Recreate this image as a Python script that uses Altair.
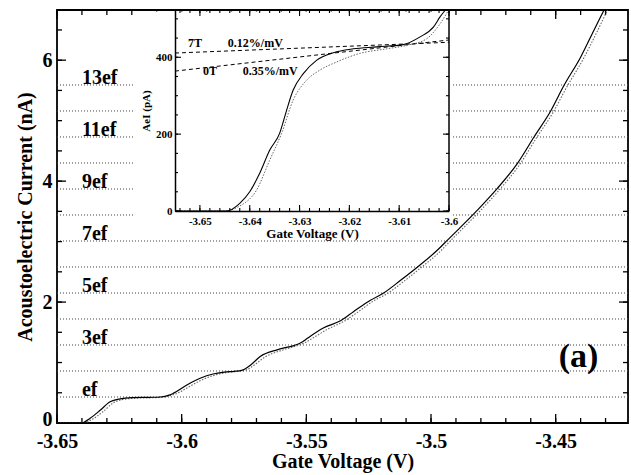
import altair as alt
import pandas as pd
import numpy as np

# ---------------- data ----------------
# main panel: acoustoelectric current (nA) vs gate voltage (V)
main_solid_x = [-3.650, -3.6401, -3.6367, -3.6327, -3.6287, -3.6247, -3.6200, -3.6130, -3.6086,
                -3.6050, -3.6034, -3.5979, -3.5926, -3.5874, -3.5830, -3.5790, -3.5760, -3.5720,
                -3.5685, -3.5617, -3.5580, -3.5550, -3.5520, -3.5496, -3.5432, -3.5363, -3.5311,
                -3.5243, -3.5190, -3.5122, -3.5054, -3.4974, -3.4935, -3.4814, -3.4734, -3.4654,
                -3.4587, -3.4520, -3.4467, -3.4400, -3.4346, -3.4306, -3.4280]
main_solid_y = [0.00, 0.00, 0.08, 0.21, 0.35, 0.40, 0.42, 0.425, 0.43,
                0.46, 0.49, 0.63, 0.74, 0.81, 0.84, 0.855, 0.87, 0.97,
                1.10, 1.21, 1.25, 1.28, 1.33, 1.40, 1.57, 1.69, 1.84,
                2.03, 2.15, 2.36, 2.58, 2.86, 3.02, 3.52, 3.88, 4.29,
                4.73, 5.16, 5.58, 6.05, 6.50, 6.83, 7.05]

main_dot_x = [-3.650, -3.6395, -3.6355, -3.6315, -3.6275, -3.6235, -3.6180, -3.6100, -3.6060,
              -3.6025, -3.5970, -3.5915, -3.5860, -3.5810, -3.5770, -3.5740, -3.5705, -3.5670,
              -3.5600, -3.5560, -3.5535, -3.5505, -3.5480, -3.5415, -3.5350, -3.5295, -3.5230,
              -3.5175, -3.5110, -3.5040, -3.4960, -3.4925, -3.4805, -3.4725, -3.4645, -3.4578,
              -3.4510, -3.4455, -3.4388, -3.4333, -3.4292, -3.4265]
main_dot_y = [0.00, 0.00, 0.07, 0.19, 0.33, 0.39, 0.41, 0.42, 0.44,
              0.48, 0.60, 0.72, 0.80, 0.84, 0.855, 0.88, 0.97, 1.08,
              1.20, 1.25, 1.28, 1.33, 1.39, 1.55, 1.68, 1.83, 2.02,
              2.14, 2.34, 2.57, 2.85, 3.00, 3.50, 3.86, 4.27, 4.71,
              5.14, 5.56, 6.03, 6.48, 6.83, 7.05]

EF = 0.43                      # nA, value of e*f
ef_levels = list(range(1, 14))
label_levels = [1, 3, 5, 7, 9, 11, 13]
label_texts = ["ef", "3ef", "5ef", "7ef", "9ef", "11ef", "13ef"]
label_x = -3.640

panel_tag = "(a)"
panel_tag_x, panel_tag_y = -3.4408, 1.09

main_x_ticks = [-3.65, -3.6, -3.55, -3.5, -3.45]
main_y_ticks = [0, 2, 4, 6]

# inset: AeI (pA) vs gate voltage (V)
inset_solid_x = [-3.655, -3.6446, -3.642, -3.640, -3.638, -3.636, -3.634, -3.6326, -3.6313,
                 -3.6292, -3.6266, -3.6232, -3.6192, -3.6145, -3.6092, -3.6058, -3.6031,
                 -3.6018, -3.6008, -3.6000]
inset_solid_y = [0, 0, 20, 50, 98, 158, 202, 262, 314,
                 358, 392, 412, 422, 427, 433, 453, 479,
                 505, 522, 535]

inset_dot_x = [-3.655, -3.6453, -3.642, -3.6386, -3.636, -3.6336, -3.6313, -3.6286, -3.626,
               -3.6225, -3.6179, -3.6125, -3.6085, -3.6045, -3.6018, -3.6002, -3.5995]
inset_dot_y = [0, 0, 13, 55, 132, 202, 288, 340, 366,
               388, 410, 422, 431, 448, 487, 520, 535]

fit7_x, fit7_y = [-3.655, -3.600], [411, 439]
fit0_x, fit0_y = [-3.655, -3.600], [364, 445]

inset_labels = ["7T", "0.12%/mV", "0T", "0.35%/mV"]
inset_label_x = [-3.6524, -3.6444, -3.6494, -3.6414]
inset_label_y = [436, 436, 364, 364]

inset_x_ticks = [-3.65, -3.64, -3.63, -3.62, -3.61, -3.6]
inset_y_ticks = [0, 200, 400]

# ---------------- layout ----------------
W, H = 571, 413
FONT = "Liberation Serif"
IX0, IX1, IY1 = 118, 392, 201          # inset frame inside the plot area

sx = alt.Scale(domain=[-3.65, -3.421], nice=False, zero=False)
sy = alt.Scale(domain=[0, 6.83], nice=False, zero=False)
isx = alt.Scale(domain=[-3.655, -3.600], range=[IX0, IX1], nice=False, zero=False)
isy = alt.Scale(domain=[0, 523], range=[IY1, 0], nice=False, zero=False)

AX_MX = alt.Axis(
    orient="bottom", values=main_x_ticks, labelExpr="'' + datum.value", ticks=False, domain=False,
    grid=False, labelFont=FONT, labelFontSize=20, labelFontWeight="bold", labelColor="black",
    labelPadding=8, labelFlush=False, labelOverlap=False,
    title="Gate Voltage (V)", titleFont=FONT, titleFontSize=20, titleFontWeight="bold",
    titleColor="black", titlePadding=0, titleLimit=1000)
AX_MY = alt.Axis(
    orient="left", values=main_y_ticks, labelExpr="'' + datum.value", ticks=False, domain=False,
    grid=False, labelFont=FONT, labelFontSize=20, labelFontWeight="bold", labelColor="black",
    labelPadding=5, labelFlush=False, labelOverlap=False,
    labelOffset={"condition": {"test": "datum.value == 0", "value": -4}, "value": 0},
    title="Acoustoelectric Current (nA)", titleFont=FONT, titleFontSize=20,
    titleFontWeight="bold", titleColor="black", titlePadding=7, titleLimit=1000)
AX_IX = alt.Axis(
    orient="bottom", offset=-(H - IY1), values=inset_x_ticks, labelExpr="'' + datum.value",
    ticks=False, domain=True, domainColor="black", domainWidth=1.5, grid=False, zindex=1,
    labelFont=FONT, labelFontSize=11, labelFontWeight="bold", labelColor="black",
    labelPadding=4, labelFlush=False, labelOverlap=False,
    title="Gate Voltage (V)", titleFont=FONT, titleFontSize=13, titleFontWeight="bold",
    titleColor="black", titlePadding=1)
AX_IY = alt.Axis(
    orient="left", offset=-IX0, values=inset_y_ticks, labelExpr="'' + datum.value",
    ticks=False, domain=True, domainColor="black", domainWidth=1.5, grid=False, zindex=1,
    labelFont=FONT, labelFontSize=11, labelFontWeight="bold", labelColor="black",
    labelPadding=3, labelFlush=False, labelOverlap=False,
    title="AeI (pA)", titleFont=FONT, titleFontSize=11, titleFontWeight="bold",
    titleColor="black", titlePadding=4)


def X(field, inset=False):
    return alt.X(field, scale=isx if inset else sx, axis=AX_IX if inset else AX_MX)


def Y(field, inset=False):
    return alt.Y(field, scale=isy if inset else sy, axis=AX_IY if inset else AX_MY)


def xtick_layer(vals, inset, y0, y1, w=1.3):
    return alt.Chart(pd.DataFrame({"v": vals})).mark_rule(color="black", strokeWidth=w).encode(
        x=X("v:Q", inset), y=alt.value(y0), y2=alt.value(y1))


def ytick_layer(vals, inset, x0, x1, w=1.3):
    return alt.Chart(pd.DataFrame({"v": vals})).mark_rule(color="black", strokeWidth=w).encode(
        y=Y("v:Q", inset), x=alt.value(x0), x2=alt.value(x1))


# ---- main panel ----
hl = alt.Chart(pd.DataFrame({"v": [n * EF for n in ef_levels]})).mark_rule(
    color="#444", strokeWidth=1, strokeDash=[1, 2]).encode(y=Y("v:Q"))

mxmaj = [round(v, 3) for v in np.arange(-3.65, -3.42, 0.05)]
mxmin = [round(v, 3) for v in np.arange(-3.65, -3.42, 0.01)]
mymaj = [0, 2, 4, 6]
mymin = [round(v, 2) for v in np.arange(0, 6.9, 0.5)]
main_ticks = [
    xtick_layer(mxmaj, False, H, H - 9), xtick_layer(mxmin, False, H, H - 5),
    xtick_layer(mxmaj, False, 0, 9), xtick_layer(mxmin, False, 0, 5),
    ytick_layer(mymaj, False, 0, 9), ytick_layer(mymin, False, 0, 5),
    ytick_layer(mymaj, False, W, W - 9), ytick_layer(mymin, False, W, W - 5),
]

inset_bg = alt.Chart(pd.DataFrame({"a": [0]})).mark_rect(color="white").encode(
    x=alt.value(76), x2=alt.value(396), y=alt.value(1.5), y2=alt.value(228))

df_ms = pd.DataFrame({"x": main_solid_x, "y": main_solid_y})
df_md = pd.DataFrame({"x": main_dot_x, "y": main_dot_y})

main_dot = alt.Chart(df_md).mark_line(color="#666", strokeWidth=1.1, strokeDash=[1.5, 1.5],
                                      clip=True, interpolate="monotone").encode(
    x=X("x:Q"), y=Y("y:Q"))
main_solid = alt.Chart(df_ms).mark_line(color="black", strokeWidth=1.2, clip=True,
                                        interpolate="monotone").encode(
    x=X("x:Q"), y=Y("y:Q"))

df_lab = pd.DataFrame({"t": label_texts, "v": [n * EF for n in label_levels],
                       "x": [label_x] * len(label_texts)})
labels = alt.Chart(df_lab).mark_text(align="left", baseline="alphabetic", dy=-1, font=FONT,
                                     fontSize=20, fontWeight="bold", color="black").encode(
    x=X("x:Q"), y=Y("v:Q"), text="t:N")

tag = alt.Chart(pd.DataFrame({"x": [panel_tag_x], "y": [panel_tag_y], "t": [panel_tag]})).mark_text(
    align="center", baseline="middle", font=FONT, fontSize=34, fontWeight="bold", color="black").encode(
    x=X("x:Q"), y=Y("y:Q"), text="t:N")

main_group = alt.layer(hl, *main_ticks, inset_bg, main_dot, main_solid, labels, tag)

# ---- inset ----
df_is = pd.DataFrame({"x": inset_solid_x, "y": inset_solid_y})
df_id = pd.DataFrame({"x": inset_dot_x, "y": inset_dot_y})
df_fit = pd.DataFrame({"x": fit7_x + fit0_x, "y": fit7_y + fit0_y,
                       "g": ["7T"] * 2 + ["0T"] * 2})

inset_solid = alt.Chart(df_is).mark_line(color="black", strokeWidth=1.1, clip=True,
                                         interpolate="monotone").encode(
    x=X("x:Q", True), y=Y("y:Q", True))
inset_dot = alt.Chart(df_id).mark_line(color="#666", strokeWidth=1, strokeDash=[1.5, 1.5],
                                       clip=True, interpolate="monotone").encode(
    x=X("x:Q", True), y=Y("y:Q", True))
inset_fit = alt.Chart(df_fit).mark_line(color="black", strokeWidth=1, strokeDash=[4, 3]).encode(
    x=X("x:Q", True), y=Y("y:Q", True), detail="g:N")

df_il = pd.DataFrame({"t": inset_labels, "x": inset_label_x, "y": inset_label_y})
inset_text = alt.Chart(df_il).mark_text(align="left", baseline="middle", font=FONT, fontSize=12,
                                        fontWeight="bold", color="black").encode(
    x=X("x:Q", True), y=Y("y:Q", True), text="t:N")

inset_right = alt.Chart(pd.DataFrame({"x": [-3.600]})).mark_rule(color="black", strokeWidth=1.5).encode(
    x=X("x:Q", True), y=alt.value(0), y2=alt.value(IY1))

ixmaj = [round(v, 3) for v in np.arange(-3.65, -3.5995, 0.01)]
ixmin = [round(v, 3) for v in np.arange(-3.654, -3.5995, 0.002)]
iymaj = [0, 200, 400]
iymin = list(range(0, 521, 50))
inset_ticks = [
    xtick_layer(ixmaj, True, IY1, IY1 - 6, 1.1), xtick_layer(ixmin, True, IY1, IY1 - 3, 1.1),
    xtick_layer(ixmaj, True, 0, 6, 1.1), xtick_layer(ixmin, True, 0, 3, 1.1),
    ytick_layer(iymaj, True, IX0, IX0 + 6, 1.1), ytick_layer(iymin, True, IX0, IX0 + 3, 1.1),
    ytick_layer(iymaj, True, IX1, IX1 - 6, 1.1), ytick_layer(iymin, True, IX1, IX1 - 3, 1.1),
]

inset_group = alt.layer(inset_fit, inset_dot, inset_solid, inset_text, inset_right, *inset_ticks)

chart = alt.layer(main_group, inset_group).resolve_scale(
    x="independent", y="independent").properties(
    width=W, height=H, padding={"left": 57, "top": 10, "right": 3, "bottom": 52},
    autosize=alt.AutoSizeParams(type="none"), background="white",
).configure_view(stroke="black", strokeWidth=1.8)

chart.save("out.html", embed_options={"renderer": "svg", "actions": False})
